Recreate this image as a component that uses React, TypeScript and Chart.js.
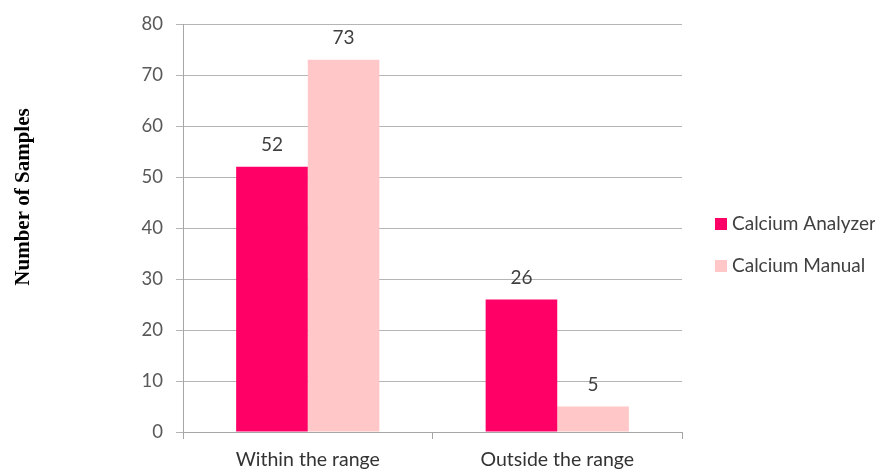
import React, { useEffect, useRef } from "react";
import { Chart, registerables } from "chart.js";

Chart.register(...registerables);

const categories = ["Within the range", "Outside the range"];
const seriesNames = ["Calcium Analyzer", "Calcium Manual"];
const analyzerValues = [52, 26];
const manualValues = [73, 5];
const seriesColors = ["#FF0066", "#FFC7C7"];
const yTicks = { min: 0, max: 80, step: 10 };
const yTitle = "Number of Samples";

const FONT = "Lato, 'Open Sans', sans-serif";

// Value labels above each bar
const valueLabels = {
  id: "valueLabels",
  afterDatasetsDraw(chart: any) {
    const ctx = chart.ctx;
    ctx.save();
    ctx.font = `19px ${FONT}`;
    ctx.fillStyle = "#404040";
    ctx.textAlign = "center";
    ctx.textBaseline = "middle";
    chart.data.datasets.forEach((ds: any, i: number) => {
      const meta = chart.getDatasetMeta(i);
      meta.data.forEach((bar: any, j: number) => {
        ctx.fillText(String(ds.data[j]), bar.x, bar.y - 22);
      });
    });
    ctx.restore();
  },
};

// Legend on the right side plus rotated axis title
const sideLegend = {
  id: "sideLegend",
  afterDraw(chart: any) {
    const ctx = chart.ctx;
    const area = chart.chartArea;
    ctx.save();
    ctx.font = `19px ${FONT}`;
    ctx.textBaseline = "middle";
    ctx.textAlign = "left";
    const x0 = area.right + 33;
    const rowY = [216, 258];
    chart.data.datasets.forEach((ds: any, i: number) => {
      const y = rowY[i];
      ctx.fillStyle = ds.backgroundColor;
      ctx.fillRect(x0, y - 6, 12, 12);
      ctx.fillStyle = "#404040";
      ctx.fillText(ds.label, x0 + 17, y);
    });

    ctx.translate(16, 189);
    ctx.rotate(-Math.PI / 2);
    ctx.font = `bold 21px 'Liberation Serif', 'DejaVu Serif', serif`;
    ctx.fillStyle = "#000000";
    ctx.textAlign = "center";
    ctx.textBaseline = "middle";
    ctx.fillText(yTitle, 0, 0);
    ctx.restore();
  },
};

export default function App() {
  const ref = useRef<HTMLCanvasElement>(null);

  useEffect(() => {
    document.body.style.overflow = "hidden";
    const chart = new Chart(ref.current!, {
      type: "bar",
      data: {
        labels: categories,
        datasets: [
          { label: seriesNames[0], data: analyzerValues, backgroundColor: seriesColors[0] },
          { label: seriesNames[1], data: manualValues, backgroundColor: seriesColors[1] },
        ],
      },
      options: {
        responsive: false,
        animation: false,
        layout: { padding: { left: 0, right: 201, top: 16, bottom: 0 } },
        datasets: { bar: { categoryPercentage: 0.574, barPercentage: 1 } },
        plugins: {
          legend: { display: false },
          tooltip: { enabled: false },
        },
        scales: {
          x: {
            grid: {
              offset: true,
              drawOnChartArea: false,
              drawTicks: true,
              tickLength: 7,
              color: "#a6a6a6",
            },
            border: { color: "#a6a6a6" },
            ticks: {
              font: { family: FONT, size: 19.5 },
              color: "#333333",
              padding: 9,
            },
            afterFit(scale: any) {
              scale.height = 38;
              scale.paddingLeft = 0;
              scale.paddingRight = 0;
            },
          },
          y: {
            min: yTicks.min,
            max: yTicks.max,
            ticks: {
              stepSize: yTicks.step,
              font: { family: FONT, size: 18.5 },
              color: "#595959",
              padding: 13,
            },
            grid: { color: "#b5b5b5", tickLength: 7 },
            border: { color: "#a6a6a6" },
            afterFit(scale: any) {
              scale.width = 175;
              scale.paddingTop = 0;
              scale.paddingBottom = 0;
            },
          },
        },
      },
      plugins: [valueLabels, sideLegend],
    });
    return () => chart.destroy();
  }, []);

  return <canvas ref={ref} width={875} height={462} style={{ display: "block" }} />;
}
